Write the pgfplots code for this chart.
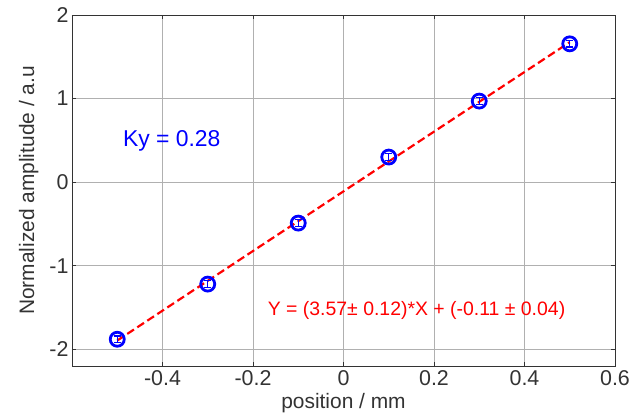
\documentclass[border=0pt]{standalone}
\usepackage{pgfplots}
\pgfplotsset{compat=1.18}
\usepackage{fontspec}
\setmainfont{Liberation Sans}
\definecolor{gridgray}{HTML}{B0B0B0}
\definecolor{axgray}{HTML}{333333}
\definecolor{ptblue}{HTML}{0000FF}
\definecolor{fitred}{HTML}{FF0000}

\begin{document}
\begin{tikzpicture}
\useasboundingbox (-72bp,-51bp) rectangle (561bp,366bp);
\begin{axis}[
    at={(0,0)}, anchor=south west,
    scale only axis,
    width=543bp, height=351bp,
    xmin=-0.6, xmax=0.6,
    ymin=-2.2, ymax=2,
    xtick={-0.4,-0.2,0,0.2,0.4,0.6},
    ytick={-2,-1,0,1,2},
    xticklabels={-0.4,-0.2,0,0.2,0.4,0.6},
    yticklabels={-2,-1,0,1,2},
    grid=major,
    major grid style={gridgray, line width=0.8pt},
    axis line style={axgray, line width=1pt},
    tick style={axgray, line width=0.6pt},
    tick align=inside,
    major tick length=4bp,
    tick label style={font=\fontsize{21.5}{24}\selectfont, text=axgray},
    xticklabel style={yshift=-1bp},
    xlabel={position / mm},
    ylabel={Normalized amplitude / a.u},
    label style={font=\fontsize{21}{24}\selectfont, text=axgray},
    xlabel style={at={(axis description cs:0.5,0)}, anchor=north, yshift=-24bp},
    ylabel style={at={(axis description cs:0,0.5)}, anchor=south, yshift=30bp},
    clip=false,
  ]

  % fit line
  \addplot[fitred, line width=2.2pt, dash pattern=on 8bp off 4bp]
    coordinates {(-0.5,-1.895) (0.5,1.675)};

  % data with error bars
  \addplot[ptblue, only marks, mark=o, mark size=7bp,
    mark options={line width=2.8pt},
    error bars/.cd, y dir=both, y explicit,
    error bar style={line width=1.4pt, ptblue},
    error mark options={rotate=90, mark size=3.5bp, line width=1.4pt}]
    coordinates {
      (-0.5,-1.88) +- (0,0.04)
      (-0.3,-1.22) +- (0,0.04)
      (-0.1,-0.49) +- (0,0.04)
      (0.1,0.30)   +- (0,0.04)
      (0.3,0.97)   +- (0,0.04)
      (0.5,1.655)  +- (0,0.04)
    };

  \node[anchor=west, text=ptblue, font=\fontsize{23}{27}\selectfont]
    at (axis cs:-0.495,0.49) {Ky = 0.28};
  \node[anchor=west, text=fitred, font=\fontsize{19.5}{23}\selectfont]
    at (axis cs:-0.175,-1.54) {Y = (3.57± 0.12)*X + (-0.11 ± 0.04)};
\end{axis}
\end{tikzpicture}
\end{document}
